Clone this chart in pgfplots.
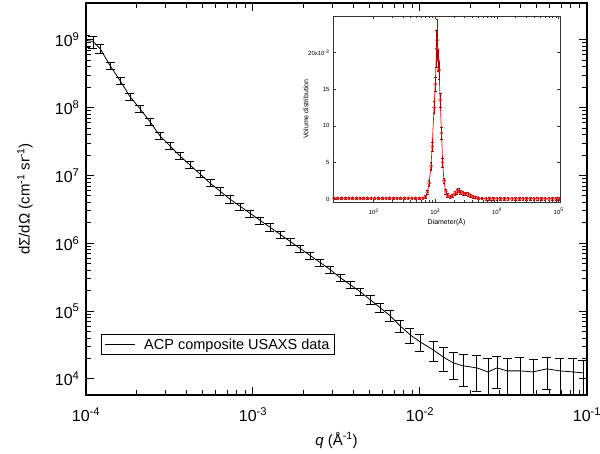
\documentclass[border=0pt]{standalone}
\usepackage{pgfplots}
\pgfplotsset{compat=1.18}
\usepackage{fontspec}
\setmainfont{Liberation Sans}
\begin{document}
\begin{tikzpicture}
\begin{axis}[
  at={(0,0)}, anchor=south west,
  width=501pt, height=392pt, scale only axis,
  xmode=log, ymode=log,
  xmin=1e-4, xmax=1e-1, ymin=5.8e3, ymax=3.5e9,
  axis line style={line width=1.6pt},
  tick style={line width=1pt, black},
  tick align=inside,
  major tick length=8pt, minor tick length=5pt,
  xtick={1e-4,1e-3,1e-2,1e-1},
  xticklabels={10\textsuperscript{-4},10\textsuperscript{-3},10\textsuperscript{-2},10\textsuperscript{-1}},
  ytick={1e4,1e5,1e6,1e7,1e8,1e9},
  yticklabels={10\textsuperscript{4},10\textsuperscript{5},10\textsuperscript{6},10\textsuperscript{7},10\textsuperscript{8},10\textsuperscript{9}},
  tick label style={font=\fontsize{16}{18}\selectfont},
  xticklabel style={yshift=-9pt},
  yticklabel style={xshift=-3pt},
  xlabel={\textit{q} (Å\textsuperscript{-1})},
  ylabel={dΣ/dΩ (cm\textsuperscript{-1} sr\textsuperscript{-1})},
  every axis x label/.style={at={(axis description cs:0.5,-0.115)}, anchor=center, font=\fontsize{15}{17}\selectfont},
  every axis y label/.style={at={(axis description cs:-0.122,0.5)}, anchor=center, rotate=90, font=\fontsize{15}{17}\selectfont},
  legend style={at={(axis description cs:0.03,0.102)}, anchor=south west, font=\fontsize{14.5}{16}\selectfont, draw=black, line width=0.8pt, inner xsep=3pt, inner ysep=2pt},
  legend cell align=left,
  legend image code/.code={\draw[black, line width=0.8pt] (0pt,0pt) -- (30pt,0pt); \path (37pt,0pt);},
]
\addplot[black, line width=0.8pt, mark=none,
  error bars/.cd, y dir=both, y explicit,
  error bar style={line width=0.7pt, black},
  error mark options={rotate=90, line width=0.7pt, mark size=4.5pt, black}]
  table[x=q, y=I, y error=e] {
q I e
1.000e-4 9.84e8 1.97e8
1.101e-4 9.5e8 1.9e8
1.213e-4 7.48e8 1.12e8
1.393e-4 4.19e8 5.0e7
1.599e-4 2.51e8 3.0e7
1.834e-4 1.456e8 1.75e7
2.105e-4 9.67e7 1.16e7
2.415e-4 6.21e7 7.5e6
2.772e-4 3.85e7 4.6e6
3.18e-4 2.74e7 3.3e6
3.65e-4 1.95e7 2.3e6
4.19e-4 1.43e7 1.7e6
4.82e-4 1.052e7 1.26e6
5.53e-4 7.74e6 9.3e5
6.34e-4 5.89e6 7.1e5
7.28e-4 4.49e6 5.4e5
8.36e-4 3.53e6 4.2e5
9.59e-4 2.78e6 3.3e5
1.101e-3 2.19e6 2.6e5
1.264e-3 1.73e6 2.1e5
1.452e-3 1.36e6 1.6e5
1.666e-3 1.07e6 1.3e5
1.912e-3 8.43e5 1.0e5
2.194e-3 6.64e5 8.0e4
2.518e-3 5.23e5 6.3e4
2.89e-3 4.12e5 5.0e4
3.32e-3 3.13e5 3.8e4
3.81e-3 2.47e5 3.0e4
4.37e-3 1.945e5 2.5e4
5.02e-3 1.48e5 2.1e4
5.76e-3 1.127e5 1.8e4
6.61e-3 8.58e4 1.55e4
7.59e-3 6.1e4 1.28e4
8.71e-3 4.49e4 1.12e4
1.0e-2 3.53e4 9.9e3
1.197e-2 2.69e4 8.9e3
1.374e-2 2.12e4 8.1e3
1.578e-2 1.73e4 7.4e3
1.81e-2 1.56e4 7.8e3
2.19e-2 1.456e4 8.0e3
2.55e-2 1.27e4 7.6e3
2.89e-2 1.456e4 7.3e3
3.32e-2 1.316e4 7.2e3
3.97e-2 1.316e4 7.6e3
4.75e-2 1.27e4 7.0e3
5.76e-2 1.41e4 7.0e3
6.89e-2 1.316e4 7.2e3
8.24e-2 1.27e4 7.4e3
9.46e-2 1.23e4 6.8e3
};
\addlegendentry{ACP composite USAXS data}
\end{axis}

\begin{axis}[
  at={(247pt,193pt)}, anchor=south west,
  width=227pt, height=186pt, scale only axis,
  xmode=log, xmin=22, xmax=1.05e5, ymin=-0.4, ymax=25,
  axis background/.style={fill=white},
  axis line style={line width=0.6pt, black!80},
  tick style={line width=0.5pt, black!80},
  tick align=inside, major tick length=3pt, minor tick length=2pt,
  xtick={1e2,1e3,1e4,1e5},
  xticklabels={10\textsuperscript{2},10\textsuperscript{3},10\textsuperscript{4},10\textsuperscript{5}},
  ytick={0,5,10,15,20},
  yticklabels={0,5,10,15,20x10\textsuperscript{-3}},
  tick label style={font=\fontsize{6}{7}\selectfont},
  xticklabel style={yshift=-3pt},
  xlabel={Diameter(Å)}, ylabel={Volume distribution},
  every axis x label/.style={at={(axis description cs:0.5,-0.108)}, anchor=center, font=\fontsize{7}{8}\selectfont},
  every axis y label/.style={at={(axis description cs:-0.119,0.5)}, anchor=center, rotate=90, font=\fontsize{7}{8}\selectfont},
]
\addplot[red, line width=0.7pt, mark=o, mark size=1.7pt,
  mark options={red!85!white, line width=0.4pt},
  error bars/.cd, y dir=both, y explicit,
  error bar style={line width=0.4pt, black!35!red},
  error mark options={rotate=90, line width=0.4pt, mark size=1.3pt, black!35!red}]
  table[x=D, y=v, y error=e] {
D v e
22.9 0.1 0.15
26.3 0.1 0.15
30.2 0.1 0.15
34.7 0.1 0.15
39.8 0.1 0.15
45.7 0.1 0.15
52.5 0.1 0.15
60.3 0.1 0.15
69.2 0.1 0.15
79.4 0.1 0.15
91.2 0.1 0.15
104.7 0.1 0.15
120.2 0.1 0.15
138.0 0.1 0.15
158.5 0.1 0.15
182.0 0.1 0.15
208.9 0.1 0.15
239.9 0.1 0.15
275.4 0.1 0.15
316.2 0.1 0.15
363.1 0.1 0.15
416.9 0.1 0.15
478.6 0.1 0.15
549.5 0.1 0.15
631.0 0.12 0.15
691.8 0.3 0.2
741.3 0.9 0.3
794.3 2.2 0.4
851.1 4.5 0.5
891.3 7.2 0.6
955.0 12.5 0.8
1000 15.7 1.0
1047 20.5 2.5
1072 21.7 2.8
1109 19.0 1.5
1148 17.6 1.2
1202 13.5 1.0
1259 9.0 0.8
1318 5.0 0.6
1380 2.5 0.4
1479 1.0 0.3
1585 0.5 0.25
1738 0.35 0.2
1905 0.5 0.2
2089 0.8 0.25
2239 1.0 0.3
2399 1.2 0.3
2570 0.9 0.3
2818 0.8 0.25
3090 0.75 0.25
3388 0.7 0.25
3715 0.5 0.2
4074 0.35 0.2
4467 0.2 0.15
5012 0.12 0.15
5754 0.08 0.15
6607 0.05 0.15
7586 0.05 0.15
8710 0.05 0.15
10000 0.05 0.15
11482 0.05 0.15
13183 0.05 0.15
15136 0.05 0.15
17378 0.05 0.15
19953 0.05 0.15
22909 0.05 0.15
26303 0.05 0.15
30200 0.05 0.15
34674 0.05 0.15
39811 0.05 0.15
45709 0.05 0.15
52481 0.05 0.15
60256 0.05 0.15
69183 0.05 0.15
79433 0.05 0.15
91201 0.05 0.15
100000 0.05 0.15
};
\end{axis}
\pgfresetboundingbox
\path[use as bounding box] (-86pt,-59pt) rectangle (514pt,395pt);
\end{tikzpicture}
\end{document}
